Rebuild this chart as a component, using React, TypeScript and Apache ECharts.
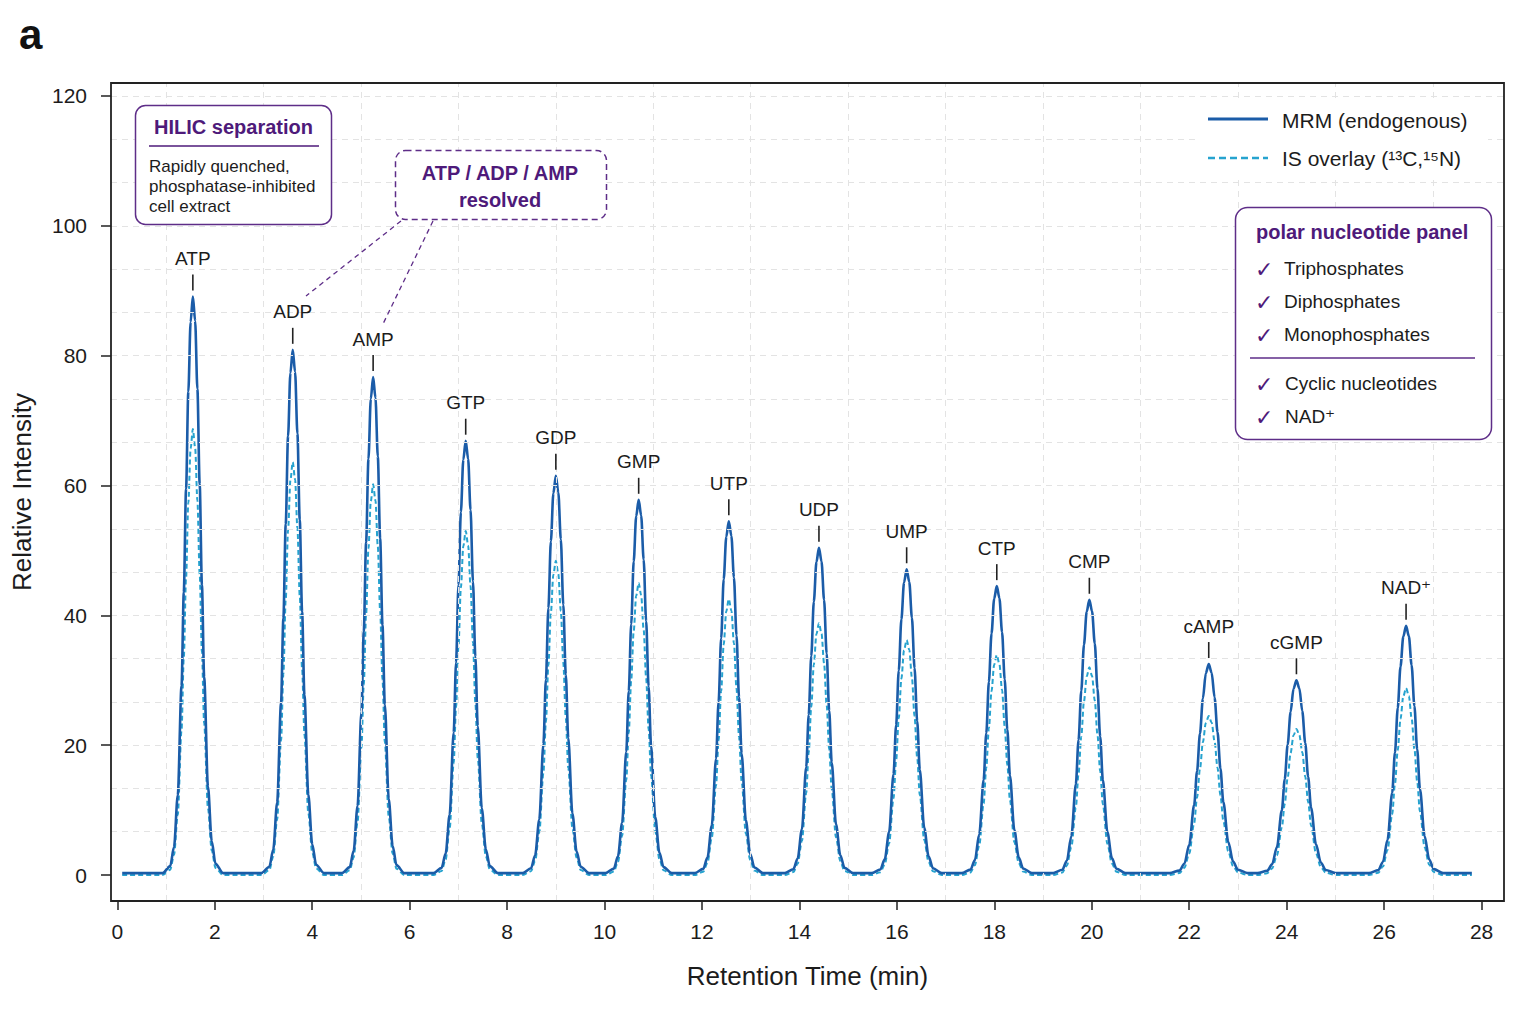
import React, { useEffect, useRef } from "react";
import * as echarts from "echarts";

// ---- data ----
const PEAK_NAMES = ["ATP", "ADP", "AMP", "GTP", "GDP", "GMP", "UTP", "UDP", "UMP", "CTP", "CMP", "cAMP", "cGMP", "NAD\u207A"];
const PEAK_RT = [1.55, 3.6, 5.25, 7.15, 9.0, 10.7, 12.55, 14.4, 16.2, 18.05, 19.95, 22.4, 24.2, 26.45];
const MRM_HEIGHT = [89.1, 80.9, 76.7, 66.9, 61.5, 57.8, 54.5, 50.4, 47.1, 44.5, 42.4, 32.5, 30.0, 38.4];
const IS_HEIGHT = [68.7, 63.6, 60.2, 53.0, 48.4, 45.0, 42.5, 38.8, 36.2, 33.9, 32.0, 24.5, 22.5, 28.8];
// peak width (min, ~sigma)
const PEAK_WIDTH = [0.155, 0.16, 0.16, 0.165, 0.17, 0.17, 0.175, 0.175, 0.18, 0.18, 0.185, 0.2, 0.2, 0.19];
// peak profile: offset in peak-widths, fraction of apex height
const PEAK_SHAPE_DX = [-4, -3, -2.5, -2, -1.5, -1.2, -0.9, -0.6, -0.3, 0, 0.3, 0.6, 0.9, 1.2, 1.5, 2, 2.5, 3, 4];
const PEAK_SHAPE_FRAC = [0, 0.012, 0.045, 0.135, 0.325, 0.487, 0.667, 0.835, 0.956, 1, 0.958, 0.84, 0.675, 0.5, 0.34, 0.15, 0.055, 0.016, 0];
const MRM_BASELINE = 0.3;
const IS_BASELINE = 0.0;
const TRACE_START = 0.1;
const TRACE_END = 27.8;
const X_TICK_VALUES = [0, 2, 4, 6, 8, 10, 12, 14, 16, 18, 20, 22, 24, 26, 28];
const Y_TICK_VALUES = [0, 20, 40, 60, 80, 100, 120];
const X_GRID_VALUES = [1, 3, 5, 7, 9, 11, 13, 15, 17, 19, 21, 23, 25, 27];
const Y_GRID_VALUES = [6.67, 13.33, 20, 26.67, 33.33, 40, 46.67, 53.33, 60, 66.67, 73.33, 80, 86.67, 93.33, 100, 106.67, 113.33, 120];
const X_RANGE = [-0.13, 28.46];
const Y_RANGE = [-4, 122];
const PANEL_ITEMS_TOP = ["Triphosphates", "Diphosphates", "Monophosphates"];
const PANEL_ITEMS_BOTTOM = ["Cyclic nucleotides", "NAD\u207A"];

const FONT = '"Liberation Sans", Arial, "DejaVu Sans", sans-serif';
const C_MRM = "#1b5ca8";
const C_IS = "#26a3cf";
const PURPLE = "#4e1a7a";
const BOX = "#5e2d88";
const INK = "#1c1c1c";
const GRID_C = "#e3e3e3";

function buildTrace(heights: number[], base: number) {
  const pts: number[][] = [[TRACE_START, base]];
  PEAK_RT.forEach((rt, i) => {
    PEAK_SHAPE_DX.forEach((dx, j) => {
      pts.push([+(rt + dx * PEAK_WIDTH[i]).toFixed(3), base + PEAK_SHAPE_FRAC[j] * (heights[i] - base)]);
    });
  });
  pts.push([TRACE_END, base]);
  return pts;
}

export default function App() {
  const ref = useRef<HTMLDivElement>(null);
  useEffect(() => {
    if (!ref.current) return;
    const chart = echarts.init(ref.current, null, { renderer: "svg" });
    const txt = (text: string, x: number, y: number, o: any = {}) => ({
      type: "text",
      x,
      y,
      z: 101,
      silent: true,
      style: {
        text,
        fontFamily: o.family || FONT,
        fontSize: o.size || 19,
        fontWeight: o.weight || "normal",
        fill: o.fill || INK,
        align: o.align || "left",
        verticalAlign: "middle",
      },
    });
    const panelRows = [268, 301, 334];
    const panelRows2 = [383, 416];
    const graphic: any[] = [
      txt("a", 19, 34, { size: 42, weight: "bold", fill: "#111" }),
      {
        type: "rect", z: 50, silent: true,
        shape: { x: 111, y: 83, width: 1393, height: 818 },
        style: { fill: "none", stroke: "#222", lineWidth: 1.8 },
      },
      // HILIC box
      {
        type: "rect", z: 100, silent: true,
        shape: { x: 135.5, y: 105.5, width: 196, height: 119, r: 10 },
        style: { fill: "#fff", stroke: BOX, lineWidth: 1.5 },
      },
      txt("HILIC separation", 233.5, 127, { size: 20, weight: "bold", fill: PURPLE, align: "center" }),
      {
        type: "line", z: 101, silent: true,
        shape: { x1: 149, y1: 146, x2: 319, y2: 146 },
        style: { stroke: PURPLE, lineWidth: 1.5 },
      },
      txt("Rapidly quenched,", 149, 166, { size: 17 }),
      txt("phosphatase-inhibited", 149, 186, { size: 17 }),
      txt("cell extract", 149, 206, { size: 17 }),
      // ATP/ADP/AMP callout
      {
        type: "line", z: 99, silent: true,
        shape: { x1: 401, y1: 221, x2: 306, y2: 296 },
        style: { stroke: BOX, lineWidth: 1.3, lineDash: [5, 4] },
      },
      {
        type: "line", z: 99, silent: true,
        shape: { x1: 433, y1: 221, x2: 383, y2: 324 },
        style: { stroke: BOX, lineWidth: 1.3, lineDash: [5, 4] },
      },
      {
        type: "rect", z: 100, silent: true,
        shape: { x: 395.5, y: 150.5, width: 211, height: 69, r: 10 },
        style: { fill: "#fff", stroke: BOX, lineWidth: 1.5, lineDash: [6, 4] },
      },
      txt("ATP / ADP / AMP", 500, 173, { size: 20, weight: "bold", fill: PURPLE, align: "center" }),
      txt("resolved", 500, 200, { size: 20, weight: "bold", fill: PURPLE, align: "center" }),
      // legend
      {
        type: "rect", z: 99, silent: true,
        shape: { x: 1198, y: 100, width: 290, height: 76 },
        style: { fill: "#fff" },
      },
      {
        type: "line", z: 101, silent: true,
        shape: { x1: 1208, y1: 119, x2: 1268, y2: 119 },
        style: { stroke: C_MRM, lineWidth: 3 },
      },
      txt("MRM (endogenous)", 1282, 120, { size: 21 }),
      {
        type: "line", z: 101, silent: true,
        shape: { x1: 1208, y1: 158, x2: 1268, y2: 158 },
        style: { stroke: C_IS, lineWidth: 2.6, lineDash: [7, 4] },
      },
      txt("IS overlay (\u00B9\u00B3C,\u00B9\u2075N)", 1282, 158, { size: 21 }),
      // panel
      {
        type: "rect", z: 100, silent: true,
        shape: { x: 1235.5, y: 207.5, width: 256, height: 232, r: 12 },
        style: { fill: "#fff", stroke: BOX, lineWidth: 1.5 },
      },
      txt("polar nucleotide panel", 1256, 232, { size: 20, weight: "bold", fill: PURPLE }),
      {
        type: "line", z: 101, silent: true,
        shape: { x1: 1250, y1: 358, x2: 1475, y2: 358 },
        style: { stroke: BOX, lineWidth: 1.5 },
      },
    ];
    PANEL_ITEMS_TOP.forEach((t, i) => {
      graphic.push(txt("\u2713", 1255, panelRows[i] + 1, { size: 22, fill: PURPLE, family: '"DejaVu Sans", sans-serif' }));
      graphic.push(txt(t, 1284, panelRows[i], { size: 19 }));
    });
    PANEL_ITEMS_BOTTOM.forEach((t, i) => {
      graphic.push(txt("\u2713", 1255, panelRows2[i] + 1, { size: 22, fill: PURPLE, family: '"DejaVu Sans", sans-serif' }));
      graphic.push(txt(t, 1285, panelRows2[i], { size: 19 }));
    });

    const option: any = {
      animation: false,
      backgroundColor: "#fff",
      textStyle: { fontFamily: FONT },
      grid: { left: 111, right: 32, top: 83, bottom: 123, containLabel: false },
      xAxis: {
        type: "value",
        position: "bottom",
        min: X_RANGE[0],
        max: X_RANGE[1],
        name: "Retention Time (min)",
        nameLocation: "middle",
        nameGap: 62,
        nameTextStyle: { fontSize: 26, color: INK, fontFamily: FONT },
        axisLine: { show: false, onZero: false },
        axisTick: { show: true, inside: false, length: 9, customValues: X_TICK_VALUES, lineStyle: { color: "#222", width: 1.5 } },
        axisLabel: { inside: false, fontSize: 21, color: INK, margin: 20, fontFamily: FONT, customValues: X_TICK_VALUES },
        splitLine: { show: false },
      },
      yAxis: {
        type: "value",
        position: "left",
        min: Y_RANGE[0],
        max: Y_RANGE[1],
        name: "Relative Intensity",
        nameLocation: "middle",
        nameGap: 76,
        nameTextStyle: { fontSize: 26, color: INK, fontFamily: FONT },
        axisLine: { show: false, onZero: false },
        axisTick: { show: true, inside: false, length: 10, customValues: Y_TICK_VALUES, lineStyle: { color: "#222", width: 1.5 } },
        axisLabel: { inside: false, fontSize: 21, color: INK, margin: 24, fontFamily: FONT, customValues: Y_TICK_VALUES },
        splitLine: { show: false },
      },
      graphic,
      series: [
        {
          name: "grid",
          type: "line",
          data: [],
          silent: true,
          z: 1,
          markLine: {
            silent: true,
            symbol: "none",
            label: { show: false },
            animation: false,
            lineStyle: { color: GRID_C, type: [6, 5], width: 1 },
            emphasis: { disabled: true },
            data: [
              ...X_GRID_VALUES.map((v) => ({ xAxis: v })),
              ...Y_GRID_VALUES.map((v) => ({ yAxis: v })),
            ],
          },
        },
        {
          name: "IS overlay",
          type: "line",
          data: buildTrace(IS_HEIGHT, IS_BASELINE),
          showSymbol: false,
          symbol: "none",
          smooth: 0.3,
          smoothMonotone: "x",
          z: 3,
          lineStyle: { color: C_IS, width: 2, type: [5, 3] },
        },
        {
          name: "MRM (endogenous)",
          type: "line",
          data: buildTrace(MRM_HEIGHT, MRM_BASELINE),
          showSymbol: false,
          symbol: "none",
          smooth: 0.3,
          smoothMonotone: "x",
          z: 4,
          lineStyle: { color: C_MRM, width: 2.6 },
        },
        {
          name: "labels",
          type: "custom",
          coordinateSystem: "cartesian2d",
          silent: true,
          z: 6,
          data: PEAK_RT.map((rt, i) => [rt, MRM_HEIGHT[i]]),
          encode: { x: 0, y: 1 },
          renderItem: (params: any, api: any) => {
            const p = api.coord([api.value(0), api.value(1)]);
            return {
              type: "group",
              children: [
                {
                  type: "line",
                  shape: { x1: p[0], y1: p[1] - 6, x2: p[0], y2: p[1] - 22 },
                  style: { stroke: "#222", lineWidth: 1.6 },
                },
                {
                  type: "text",
                  x: p[0],
                  y: p[1] - 38,
                  style: {
                    text: PEAK_NAMES[params.dataIndex],
                    fontFamily: FONT,
                    fontSize: 19,
                    fill: INK,
                    align: "center",
                    verticalAlign: "middle",
                  },
                },
              ],
            };
          },
        },
      ],
    };
    chart.setOption(option);
    return () => chart.dispose();
  }, []);
  return <div ref={ref} style={{ position: "absolute", left: 0, top: 0, width: 1536, height: 1024 }} />;
}
